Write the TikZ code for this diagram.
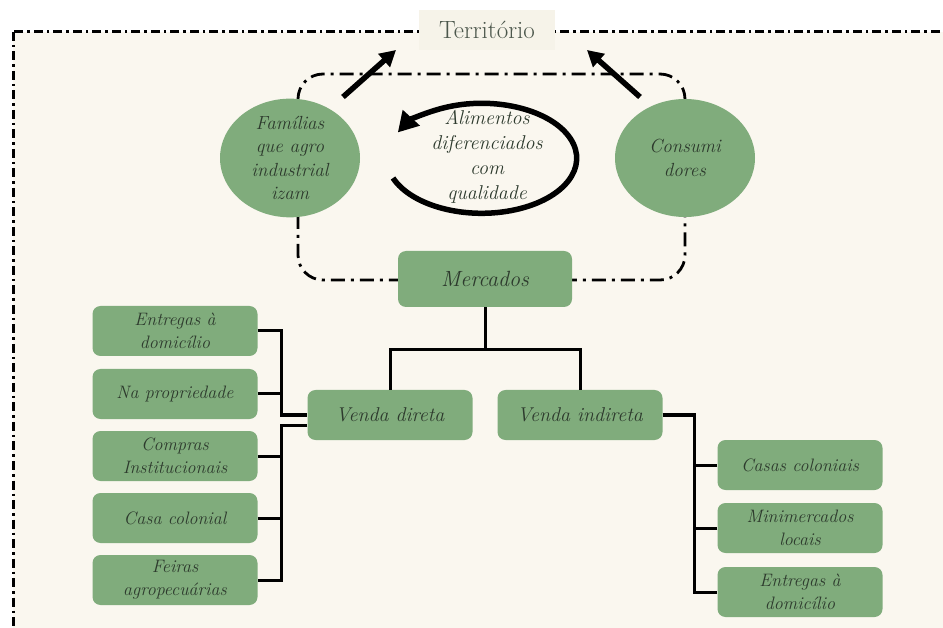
\documentclass[tikz,border=0pt]{standalone}
\usepackage{fontspec}
\usepackage{tikz}
\usetikzlibrary{positioning,shapes.geometric,arrows.meta}
\definecolor{verde}{RGB}{128,172,124}
\definecolor{creme}{RGB}{250,247,239}
\definecolor{creme2}{RGB}{246,243,233}
\definecolor{letra}{RGB}{45,58,45}
\tikzset{
  caixa/.style={fill=verde, rounded corners=8pt, minimum width=165pt, minimum height=50pt,
    inner sep=2pt, align=center, text=letra, font=\fontsize{18}{23}\selectfont\itshape},
  bola/.style={ellipse, fill=verde, minimum width=140pt, minimum height=118pt, inner sep=0pt,
    align=center, text=letra, font=\fontsize{19}{23.5}\selectfont\itshape},
  liga/.style={line width=3pt},
  seta/.style={line width=5.5pt, -{Triangle[length=16pt,width=17pt]}},
  tracoponto/.style={line width=2.8pt, dash pattern=on 14pt off 6pt on 3pt off 6pt}
}

\begin{document}
\begin{tikzpicture}[x=1pt,y=-1pt]
  \useasboundingbox (0,0) rectangle (943,628);
  \clip (0,0) rectangle (943,628);
  \fill[white] (0,0) rectangle (943,628);
  % moldura do territorio
  \draw[fill=creme, line width=3pt, dash pattern=on 9pt off 4pt on 2.5pt off 4pt] (13,32) rectangle (960,650);
  \node[fill=creme2, minimum width=136pt, minimum height=40pt, text=letra!85,
    font=\fontsize{25}{28}\selectfont] (terr) at (487,30) {Território};

  % laco tracejado
  \draw[tracoponto, rounded corners=25pt] (298,74) rectangle (685,280);

  \node[bola] (fam) at (290,158) {Famílias\\que agro\\industrial\\izam};
  \node[bola] (cons) at (685,158) {Consumi\\dores};
  \node[caixa, minimum width=174pt, minimum height=56pt,
    font=\fontsize{22}{26}\selectfont\itshape] (merc) at (485,279) {Mercados};

  % setas para o territorio
  \coordinate (pfam) at (343,97);
  \coordinate (tfam) at (396,50);
  \coordinate (pcons) at (640,97);
  \coordinate (tcons) at (587,50);
  \draw[seta] (pfam) -- (tfam);
  \draw[seta] (pcons) -- (tcons);

  % ciclo dos alimentos
  \draw[line width=5.5pt, -{Triangle[length=20pt,width=22pt]}] (393,178)
    arc[start angle=159, end angle=-152, x radius=95, y radius=55];
  \node[text=letra, font=\fontsize{20}{25}\selectfont\itshape, align=center] (alim) at (487,157)
    {Alimentos\\diferenciados\\com\\qualidade};

  \node[caixa, font=\fontsize{20}{24}\selectfont\itshape] (vd) at (390,415) {Venda direta};
  \node[caixa, font=\fontsize{20}{24}\selectfont\itshape] (vi) at (580,415) {Venda indireta};

  \node[caixa] (e1) at (175,331) {Entregas à\\domicílio};
  \node[caixa] (np) at (175,394) {Na propriedade};
  \node[caixa] (cp) at (175,456) {Compras\\Institucionais};
  \node[caixa] (cc) at (175,518) {Casa colonial};
  \node[caixa] (fe) at (175,580) {Feiras\\agropecuárias};

  \node[caixa] (r1) at (800,465) {Casas coloniais};
  \node[caixa] (r2) at (800,528) {Minimercados\\locais};
  \node[caixa] (r3) at (800,592) {Entregas à\\domicílio};

  % ligacoes
  \coordinate (nodo) at (485,350);
  \draw[liga] (merc.south) -- (nodo);
  \draw[liga] (vd.north) |- (nodo) -| (vi.north);

  \coordinate (jd1) at (281,415);
  \coordinate (jd2) at (281,425);
  \draw[liga] (e1.east) -| (jd1) -- (vd.west);
  \draw[liga] (np.east) -- (np.east -| jd1);
  \draw[liga] ([yshift=-10pt]vd.west) -- (jd2) |- (fe.east);
  \draw[liga] (cp.east) -- (cp.east -| jd2);
  \draw[liga] (cc.east) -- (cc.east -| jd2);

  \coordinate (ji) at (694,415);
  \draw[liga] (vi.east) -- (ji) |- (r3.west);
  \draw[liga] (r1.west) -- (r1.west -| ji);
  \draw[liga] (r2.west) -- (r2.west -| ji);
\end{tikzpicture}
\end{document}
